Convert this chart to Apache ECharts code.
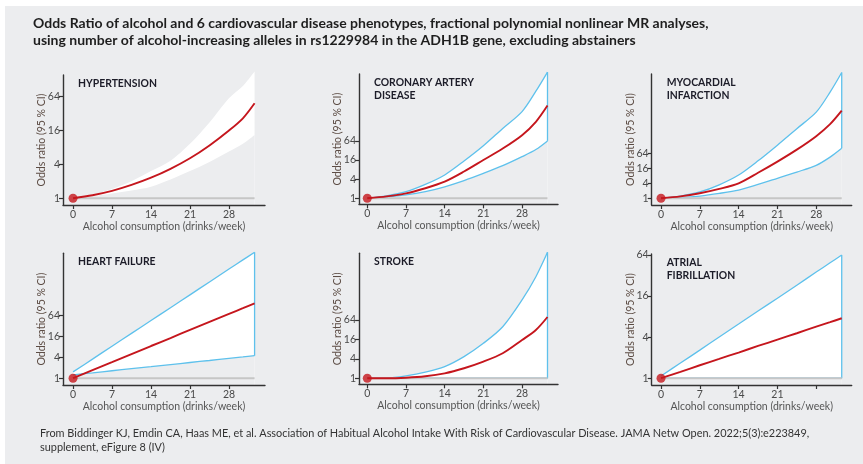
<!DOCTYPE html>
<html>
<head>
<meta charset="utf-8">
<script src="https://cdn.jsdelivr.net/npm/echarts@6/dist/echarts.min.js"></script>
<style>
  html, body { margin: 0; padding: 0; background: #fff; }
  #bg { position: absolute; left: 5px; top: 6px; width: 858px; height: 458px; background: #ecedef; }
  #main { position: absolute; left: 0; top: 0; width: 863px; height: 464px; }
</style>
</head>
<body>
<div id="bg"></div>
<div id="main"></div>
<script>
// alcohol dose, drinks/week
const doses = [0, 3.5, 7, 10.5, 14, 17.5, 21, 24.5, 28, 30.5, 32.6]
const xTicks = [0, 7, 14, 21, 28]
const yTicks = [1, 4, 16, 64]

// odds ratios (estimate, upper 95% CI, lower 95% CI)
const htnOR    = [1, 1.13, 1.35, 1.72, 2.31, 3.32, 5.1, 8.6, 15.8, 26, 48]
const htnUpper = [1, 1.16, 1.46, 2.0, 3.03, 4.6, 9.2, 22, 59, 97, 175]
const htnLower = [1, 1.09, 1.21, 1.37, 1.6, 2.14, 3.03, 4.4, 6.7, 9.2, 13.2]

const cadOR    = [1, 1.15, 1.43, 2.07, 3.34, 6.96, 16, 36.8, 97, 256, 832]
const cadUpper = [1, 1.19, 1.61, 2.73, 5.43, 14.9, 45, 158, 537, 2350, 9400]
const cadLower = [1, 1.09, 1.27, 1.62, 2.3, 3.6, 6.06, 10.6, 20.4, 34.3, 64]

const miOR    = [1, 1.19, 1.59, 2.38, 4, 10.6, 29.9, 90.5, 315, 955, 3330]
const miUpper = [1, 1.23, 1.79, 3.48, 8.6, 32, 137, 630, 2900, 18500, 114000]
const miLower = [1, 1.07, 1.23, 1.57, 2.14, 3.6, 6.36, 11.3, 21.1, 45, 102]

const hfOR    = [1, 1.71, 2.89, 4.92, 8.4, 14.2, 24.3, 41.4, 70, 102, 141]
const hfUpper = [1.52, 3.53, 8.3, 19.3, 45, 105, 246, 576, 1350, 2470, 4100]
const hfLower = [1.25, 1.43, 1.64, 1.88, 2.14, 2.46, 2.83, 3.23, 3.7, 4.08, 4.44]

const strokeOR    = [1, 1, 1.04, 1.15, 1.42, 2.04, 3.27, 5.94, 15.3, 31.3, 79]
const strokeUpper = [1, 1.01, 1.18, 1.54, 2.3, 4.69, 12.1, 39.4, 267, 1400, 7970]
const strokeLower = [1, 1, 1, 1, 1, 1, 1, 1, 1, 1, 1]

const afOR    = [1, 1.24, 1.55, 1.92, 2.38, 2.97, 3.68, 4.56, 5.7, 6.63, 7.57]
const afUpper = [1.08, 1.67, 2.58, 4.03, 6.23, 9.65, 14.9, 23.1, 36, 49.2, 64]
const afLower = [1, 1, 1, 1, 1, 1, 1, 1, 1, 1, 1]

const panels = [
  { name: 'HYPERTENSION', or: htnOR, up: htnUpper, lo: htnLower, edge: false,
    grid: [63, 75, 202, 130], x: [-1.8, 34.47], y: [0.76, 152] },
  { name: 'CORONARY ARTERY\nDISEASE', or: cadOR, up: cadUpper, lo: cadLower, edge: true,
    grid: [359, 74, 199, 130.3], x: [-1.5, 34.5], y: [0.646, 8192] },
  { name: 'MYOCARDIAL\nINFARCTION', or: miOR, up: miUpper, lo: miLower, edge: true,
    grid: [651.7, 74, 200, 131], x: [-1.68, 34.4], y: [0.536, 99300] },
  { name: 'HEART FAILURE', or: hfOR, up: hfUpper, lo: hfLower, edge: true,
    grid: [63, 253.3, 202, 131.7], x: [-1.8, 34.47], y: [0.64, 3822] },
  { name: 'STROKE', or: strokeOR, up: strokeUpper, lo: strokeLower, edge: true,
    grid: [359, 253.3, 199, 131], x: [-1.5, 34.5], y: [0.65, 7430] },
  { name: 'ATRIAL\nFIBRILLATION', or: afOR, up: afUpper, lo: afLower, edge: true, noLast: true,
    grid: [651.7, 254, 200, 131], x: [-1.68, 34.4], y: [0.795, 66.3] }
]

const RED = '#c5161d'
const BLUE = '#5ec1ec'
const AXIS = '#333333'
const BG = '#ecedef'
const FONT = 'Lato, "Noto Sans", sans-serif'
const SMOOTH = 0.3

const grids = [], xAxes = [], yAxes = [], series = [], titles = []

titles.push({
  text: 'Odds Ratio of alcohol and 6 cardiovascular disease phenotypes, fractional polynomial nonlinear MR analyses,\nusing number of alcohol-increasing alleles in rs1229984 in the ADH1B gene, excluding abstainers',
  left: 33, top: 15, padding: 0,
  textStyle: { fontFamily: FONT, fontSize: 14, fontWeight: 'bold', color: '#1e1e1e', lineHeight: 17 }
})
titles.push({
  text: 'From Biddinger KJ, Emdin CA, Haas ME, et al. Association of Habitual Alcohol Intake With Risk of Cardiovascular Disease. JAMA Netw Open. 2022;5(3):e223849,\nsupplement, eFigure 8 (IV)',
  left: 40, top: 427, padding: 0,
  textStyle: { fontFamily: FONT, fontSize: 10.9, fontWeight: 'normal', color: '#333', lineHeight: 13.5 }
})

panels.forEach((p, i) => {
  const [gl, gt, gw, gh] = p.grid
  grids.push({ left: gl, top: gt, width: gw, height: gh, containLabel: false })
  titles.push({
    text: p.name, left: gl + 15, top: gt + 2, padding: 0,
    textStyle: { fontFamily: FONT, fontSize: 10.4, fontWeight: 'bold', color: '#1c1c28', lineHeight: 13 }
  })
  const xLabels = p.noLast ? xTicks.slice(0, 4) : xTicks
  xAxes.push({
    gridIndex: i, type: 'value', min: p.x[0], max: p.x[1], z: 10,
    name: 'Alcohol consumption (drinks/week)', nameLocation: 'middle', nameGap: 16, nameMoveOverlap: false,
    nameTextStyle: { fontFamily: FONT, fontSize: 10.5, color: '#555' },
    axisLine: { show: true, onZero: false, lineStyle: { color: AXIS, width: 1.4 } },
    axisTick: { show: true, customValues: xTicks, length: 4, lineStyle: { color: AXIS, width: 1.2 } },
    axisLabel: { customValues: xLabels, margin: 4, fontFamily: FONT, fontSize: 10.5, color: '#4a4a4a' },
    splitLine: { show: false }
  })
  yAxes.push({
    gridIndex: i, type: 'log', logBase: 2, min: p.y[0], max: p.y[1], z: 10,
    name: 'Odds ratio (95 % CI)', nameLocation: 'middle', nameGap: 16, nameMoveOverlap: false,
    nameTextStyle: { fontFamily: FONT, fontSize: 10.5, color: '#5d4d45' },
    axisLine: { show: true, onZero: false, lineStyle: { color: AXIS, width: 1.4 } },
    axisTick: { show: true, customValues: yTicks, length: 4, lineStyle: { color: AXIS, width: 1.2 } },
    axisLabel: { customValues: yTicks, margin: 3, fontFamily: FONT, fontSize: 10.5, color: '#4a4a4a' },
    splitLine: { show: false }
  })

  const last = doses.length - 1
  const upData = doses.map((d, k) => [d, p.up[k]])
  const loData = doses.map((d, k) => [d, p.lo[k]])
  // confidence band: white under the upper bound, background again under the lower bound
  series.push({
    type: 'line', xAxisIndex: i, yAxisIndex: i, symbol: 'none', smooth: SMOOTH, silent: true, clip: false, z: 1,
    lineStyle: { width: 0, opacity: 0 }, areaStyle: { color: '#ffffff', opacity: 1, origin: 'start' }, data: upData
  })
  series.push({
    type: 'line', xAxisIndex: i, yAxisIndex: i, symbol: 'none', smooth: SMOOTH, silent: true, clip: false, z: 2,
    lineStyle: { width: 0, opacity: 0 }, areaStyle: { color: BG, opacity: 1, origin: 'start' }, data: loData
  })
  if (p.edge) {
    series.push({
      type: 'line', xAxisIndex: i, yAxisIndex: i, symbol: 'none', smooth: SMOOTH, clip: false, z: 3,
      lineStyle: { color: BLUE, width: 1.3 }, data: upData
    })
    series.push({
      type: 'line', xAxisIndex: i, yAxisIndex: i, symbol: 'none', smooth: SMOOTH, clip: false, z: 3,
      lineStyle: { color: BLUE, width: 1.3 }, data: loData
    })
    series.push({
      type: 'line', xAxisIndex: i, yAxisIndex: i, symbol: 'none', clip: false, z: 3,
      lineStyle: { color: BLUE, width: 1.3 },
      data: [[doses[last], p.lo[last]], [doses[last], p.up[last]]]
    })
  }
  // reference line at OR = 1
  series.push({
    type: 'line', xAxisIndex: i, yAxisIndex: i, symbol: 'none', clip: false, z: 4,
    lineStyle: { color: '#c6c6c6', width: 2 },
    data: [[doses[0], 1], [doses[last], 1]]
  })
  series.push({
    type: 'line', xAxisIndex: i, yAxisIndex: i, symbol: 'none', smooth: SMOOTH, clip: false, z: 5,
    lineStyle: { color: RED, width: 1.9 }, data: doses.map((d, k) => [d, p.or[k]])
  })
  series.push({
    type: 'scatter', xAxisIndex: i, yAxisIndex: i, symbolSize: 9, clip: false, z: 6,
    itemStyle: { color: RED }, data: [[doses[0], p.or[0]]]
  })
})

const chart = echarts.init(document.getElementById('main'), null, { renderer: 'canvas' })
chart.setOption({
  animation: false,
  title: titles,
  grid: grids,
  xAxis: xAxes,
  yAxis: yAxes,
  series: series
})
</script>
</body>
</html>
